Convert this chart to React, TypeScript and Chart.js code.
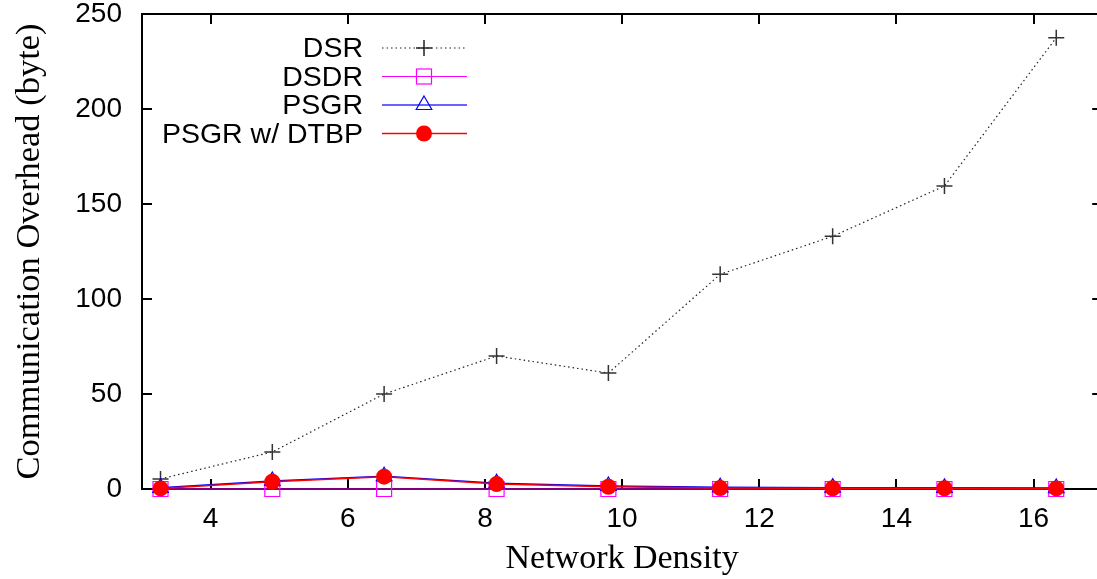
import { useEffect, useRef } from "react";
import { Chart, registerables } from "chart.js";

Chart.register(...registerables);

// ---- data ----
const densities = [3.27, 4.9, 6.53, 8.17, 9.8, 11.43, 13.07, 14.7, 16.33];
const dsr = [5.3, 19.5, 50, 70, 61, 113, 133, 159.5, 237.5];
const dsdr = [0, 0, 0, 0, 0, 0, 0, 0, 0];
const psgr = [0.6, 4.2, 6.7, 3.0, 1.6, 0.9, 0.7, 0.6, 0.5];
const psgrDtbp = [0.3, 3.8, 6.5, 2.6, 1.2, 0.5, 0.4, 0.4, 0.3];
const seriesNames = ["DSR", "DSDR", "PSGR", "PSGR w/ DTBP"];
const xTicks = [4, 6, 8, 10, 12, 14, 16];
const yTicks = [0, 50, 100, 150, 200, 250];
const xTitle = "Network Density";
const yTitle = "Communication Overhead (byte)";

const SANS = '"Liberation Sans", Arial, sans-serif';
const SERIF = '"Liberation Serif", "Times New Roman", serif';

const toPoints = (vals: number[]) => vals.map((v, i) => ({ x: densities[i], y: v }));

function drawMarker(ctx: CanvasRenderingContext2D, kind: number, x: number, y: number) {
  ctx.save();
  ctx.setLineDash([]);
  if (kind === 0) {
    ctx.strokeStyle = "#222";
    ctx.lineWidth = 1.5;
    ctx.beginPath();
    ctx.moveTo(x - 8, y);
    ctx.lineTo(x + 8, y);
    ctx.moveTo(x, y - 8);
    ctx.lineTo(x, y + 8);
    ctx.stroke();
  } else if (kind === 1) {
    ctx.strokeStyle = "#ff00ff";
    ctx.lineWidth = 1.2;
    ctx.strokeRect(x - 7.5, y - 7.5, 15, 15);
  } else if (kind === 2) {
    const r = 9;
    ctx.strokeStyle = "#0000ff";
    ctx.lineWidth = 1.2;
    ctx.beginPath();
    for (let k = 0; k < 3; k++) {
      const a = (k * 2 * Math.PI) / 3;
      const px = x + Math.sin(a) * r;
      const py = y - Math.cos(a) * r;
      if (k === 0) ctx.moveTo(px, py);
      else ctx.lineTo(px, py);
    }
    ctx.closePath();
    ctx.stroke();
  } else {
    ctx.fillStyle = "#ff0000";
    ctx.beginPath();
    ctx.arc(x, y, 8, 0, Math.PI * 2);
    ctx.fill();
  }
  ctx.restore();
}

const framePlugin = {
  id: "gnuplotFrame",
  beforeDatasetsDraw(chart: any) {
    const { ctx, chartArea, scales } = chart;
    const { left, top, right, bottom } = chartArea;
    ctx.save();
    ctx.strokeStyle = "#000";
    ctx.lineWidth = 2;
    ctx.strokeRect(left, top, right - left, bottom - top);
    ctx.beginPath();
    for (const v of xTicks) {
      const px = Math.round(scales.x.getPixelForValue(v));
      ctx.moveTo(px, bottom);
      ctx.lineTo(px, bottom - 10);
      ctx.moveTo(px, top);
      ctx.lineTo(px, top + 10);
    }
    for (const v of yTicks) {
      const py = Math.round(scales.y.getPixelForValue(v));
      ctx.moveTo(left, py);
      ctx.lineTo(left + 10, py);
      ctx.moveTo(right, py);
      ctx.lineTo(right - 10, py);
    }
    ctx.stroke();
    ctx.restore();
  },
  afterDraw(chart: any) {
    const { ctx } = chart;
    const textRight = 363;
    const lineL = 382;
    const lineR = 467;
    const mid = 424;
    const rowY = [48, 76.5, 105, 133.5];
    const lineStyles = [
      { color: "#222", width: 1.2, dash: [1.5, 3] },
      { color: "#ff00ff", width: 1, dash: [] },
      { color: "#3333ff", width: 1.6, dash: [] },
      { color: "#ff0000", width: 1.3, dash: [] },
    ];
    ctx.save();
    ctx.font = `28.5px ${SANS}`;
    ctx.textAlign = "right";
    ctx.textBaseline = "alphabetic";
    ctx.fillStyle = "#000";
    seriesNames.forEach((name, i) => {
      const y = rowY[i];
      ctx.fillText(name, textRight, y + 9);
      const st = lineStyles[i];
      ctx.save();
      ctx.strokeStyle = st.color;
      ctx.lineWidth = st.width;
      ctx.setLineDash(st.dash);
      ctx.beginPath();
      ctx.moveTo(lineL, y);
      ctx.lineTo(lineR, y);
      ctx.stroke();
      ctx.restore();
      drawMarker(ctx, i, mid, y);
    });
    ctx.restore();
  },
};

export default function App() {
  const ref = useRef<HTMLCanvasElement | null>(null);

  useEffect(() => {
    if (!ref.current) return;
    const chart = new Chart(ref.current, {
      type: "line",
      data: {
        datasets: [
          {
            label: seriesNames[0],
            data: toPoints(dsr),
            borderColor: "#222",
            borderWidth: 1.2,
            borderDash: [1.5, 3],
            pointStyle: "cross",
            pointRadius: 8,
            pointBorderColor: "#333",
            pointBorderWidth: 1.5,
            pointBackgroundColor: "#333",
            tension: 0,
            clip: false,
            order: 3,
          },
          {
            label: seriesNames[1],
            data: toPoints(dsdr),
            borderColor: "#ff00ff",
            borderWidth: 1,
            pointStyle: "rect",
            pointRadius: 10.6,
            pointBorderColor: "#ff00ff",
            pointBackgroundColor: "rgba(0,0,0,0)",
            pointBorderWidth: 1.2,
            tension: 0,
            clip: false,
            order: 2,
          },
          {
            label: seriesNames[2],
            data: toPoints(psgr),
            borderColor: "#0000ff",
            borderWidth: 1.5,
            pointStyle: "triangle",
            pointRadius: 9,
            pointBorderColor: "#0000ff",
            pointBackgroundColor: "rgba(0,0,0,0)",
            pointBorderWidth: 1.2,
            tension: 0,
            clip: false,
            order: 1,
          },
          {
            label: seriesNames[3],
            data: toPoints(psgrDtbp),
            borderColor: "#ff0000",
            borderWidth: 1.5,
            pointStyle: "circle",
            pointRadius: 8,
            pointBorderColor: "#ff0000",
            pointBackgroundColor: "#ff0000",
            pointBorderWidth: 0,
            tension: 0,
            clip: false,
            order: 0,
          },
        ],
      },
      options: {
        responsive: false,
        animation: false,
        devicePixelRatio: 1,
        layout: { padding: { top: 14, right: 2, bottom: 0, left: 0 } },
        plugins: {
          legend: { display: false },
          tooltip: { enabled: false },
        },
        scales: {
          x: {
            type: "linear",
            min: 3,
            max: 17,
            afterBuildTicks: (s: any) => {
              s.ticks = xTicks.map((v) => ({ value: v }));
            },
            afterFit: (s: any) => {
              s.height = 90;
              s.paddingLeft = 0;
              s.paddingRight = 0;
            },
            grid: { display: false, drawTicks: false },
            border: { display: false },
            ticks: {
              font: { family: SANS, size: 28 },
              color: "#000",
              padding: 13.5,
              maxRotation: 0,
              autoSkip: false,
            },
            title: {
              display: true,
              text: xTitle,
              color: "#000",
              font: { family: SERIF, size: 34 },
              padding: { top: 0, bottom: 0 },
            },
          },
          y: {
            type: "linear",
            min: 0,
            max: 250,
            afterBuildTicks: (s: any) => {
              s.ticks = yTicks.map((v) => ({ value: v }));
            },
            afterFit: (s: any) => {
              s.width = 142;
              s.paddingTop = 0;
              s.paddingBottom = 0;
            },
            grid: { display: false, drawTicks: false },
            border: { display: false },
            ticks: {
              font: { family: SANS, size: 28 },
              color: "#000",
              padding: 20,
              autoSkip: false,
            },
            title: {
              display: true,
              text: yTitle,
              color: "#000",
              font: { family: SERIF, size: 34.5 },
              padding: { top: 9, bottom: 0 },
            },
          },
        },
      },
      plugins: [framePlugin],
    } as any);
    return () => chart.destroy();
  }, []);

  return (
    <div
      style={{
        position: "fixed",
        left: 0,
        top: 0,
        width: 1097,
        height: 579,
        overflow: "hidden",
        background: "#fff",
      }}
    >
      <canvas ref={ref} width={1114} height={579} style={{ display: "block" }} />
    </div>
  );
}
